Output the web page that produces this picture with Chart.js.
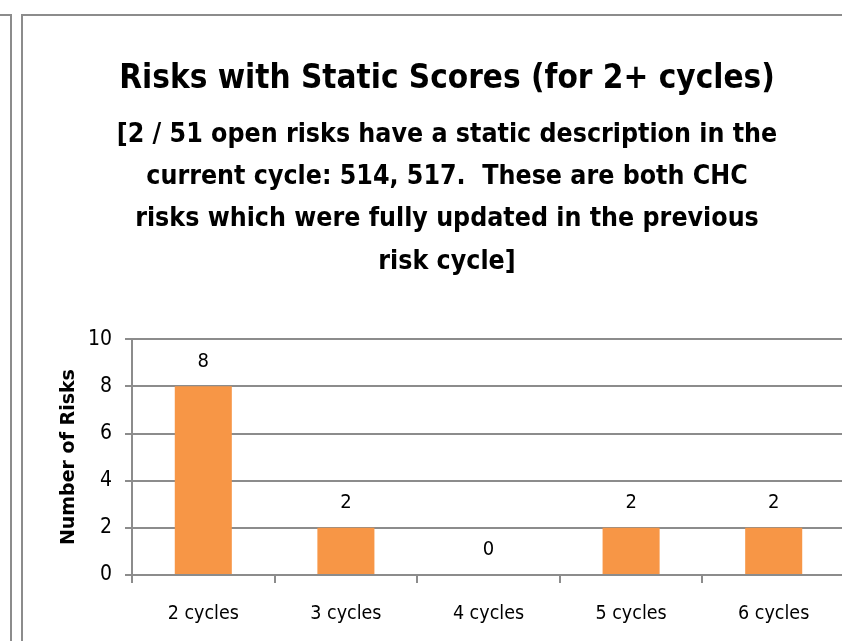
<!DOCTYPE html>
<html>
<head>
<meta charset="utf-8">
<script src="https://cdn.jsdelivr.net/npm/chart.js@4.4.0/dist/chart.umd.min.js"></script>
<style>
  html, body { margin: 0; padding: 0; background: #fff; overflow: hidden; width: 842px; height: 641px; }
  #leftPanel { position: absolute; left: -12px; top: 14px; width: 20px; height: 700px; border: 2px solid #8c8c8c; box-sizing: content-box; }
  #frame { position: absolute; left: 21px; top: 14px; width: 900px; height: 700px; border: 2px solid #8c8c8c; }
  #c { position: absolute; left: 0; top: 0; }
</style>
</head>
<body>
<div id="leftPanel"></div>
<div id="frame"></div>
<canvas id="c" width="900" height="641"></canvas>
<script>
const categories = ["2 cycles", "3 cycles", "4 cycles", "5 cycles", "6 cycles"];
const values = [8, 2, 0, 2, 2];
const yTicks = [0, 2, 4, 6, 8, 10];
const titleText = "Risks with Static Scores (for 2+ cycles)";
const subtitleLines = [
  "[2 / 51 open risks have a static description in the",
  "current cycle: 514, 517.  These are both CHC",
  "risks which were fully updated in the previous",
  "risk cycle]"
];
const yAxisTitle = "Number of Risks";

const FONT = "'DejaVu Sans Condensed', 'DejaVu Sans', sans-serif";
const WIDE = "'DejaVu Sans', sans-serif";

const valueLabels = {
  id: 'valueLabels',
  afterDatasetsDraw(chart) {
    const ctx = chart.ctx;
    const meta = chart.getDatasetMeta(0);
    ctx.save();
    ctx.font = "20px " + FONT;
    ctx.fillStyle = "#000";
    ctx.textAlign = "center";
    ctx.textBaseline = "middle";
    meta.data.forEach((bar, i) => {
      ctx.fillText(String(values[i]), bar.x, bar.y - 25);
    });
    ctx.restore();
  }
};

new Chart(document.getElementById('c'), {
  type: 'bar',
  data: {
    labels: categories,
    datasets: [{
      data: values,
      backgroundColor: '#F79646',
      borderWidth: 0,
      categoryPercentage: 1.0,
      barPercentage: 0.4
    }]
  },
  options: {
    responsive: false,
    animation: false,
    events: [],
    layout: { padding: { left: 49, right: 55, top: 0, bottom: 0 } },
    plugins: {
      legend: { display: false },
      tooltip: { enabled: false },
      title: {
        display: true,
        text: titleText,
        color: '#000',
        font: { family: FONT, size: 33, weight: 'bold', lineHeight: 1.2 },
        padding: { top: 60, bottom: 14 }
      },
      subtitle: {
        display: true,
        text: subtitleLines,
        color: '#000',
        font: { family: FONT, size: 26.5, weight: 'bold', lineHeight: 1.6 },
        padding: { top: 0, bottom: 56 }
      }
    },
    scales: {
      x: {
        grid: { display: true, drawOnChartArea: false, drawTicks: true, tickLength: 8, color: '#8c8c8c', lineWidth: 2, offset: true },
        border: { display: true, color: '#8c8c8c', width: 2 },
        ticks: { color: '#000', font: { family: FONT, size: 19.5 }, padding: 19, maxRotation: 0 },
        afterFit(scale) { scale.height = 66; }
      },
      y: {
        min: 0, max: 10,
        afterBuildTicks(scale) { scale.ticks = yTicks.map(v => ({ value: v })); },
        grid: { color: '#8c8c8c', lineWidth: 2, tickLength: 7, drawTicks: true },
        border: { display: true, color: '#8c8c8c', width: 2 },
        ticks: { color: '#000', font: { family: FONT, size: 21 }, padding: 13 },
        title: { display: true, text: yAxisTitle, color: '#000', font: { family: WIDE, size: 19, weight: 'bold' }, padding: { top: 9, bottom: 0 } },
        afterFit(scale) { scale.width = 83; }
      }
    }
  },
  plugins: [valueLabels]
});
</script>
</body>
</html>
